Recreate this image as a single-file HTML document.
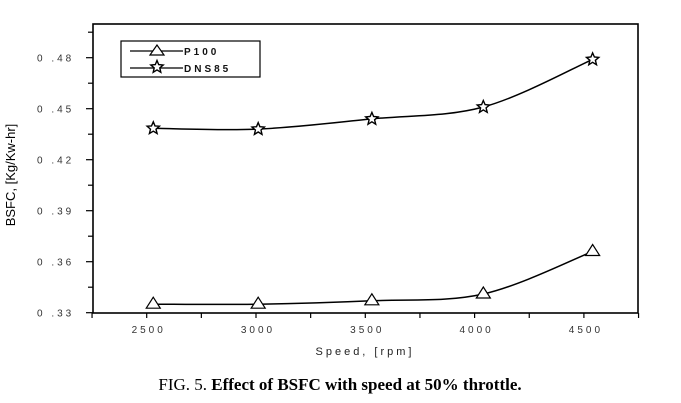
<!DOCTYPE html>
<html><head><meta charset="utf-8"><style>
body{margin:0;background:#fff;width:681px;height:403px;overflow:hidden}
svg{display:block}
.t{font-family:"Liberation Sans",sans-serif;font-size:10px;fill:#333;letter-spacing:3px}
</style></head><body>
<svg id="c" width="681" height="403">
<rect x="93" y="24" width="545" height="289" fill="none" stroke="#000" stroke-width="1.6"/>
<g id="ax"></g><g id="series"></g>
<text x="15" y="175" transform="rotate(-90 15 175)" style="font-family:'Liberation Sans',sans-serif;font-size:13px" text-anchor="middle">BSFC, [Kg/Kw-hr]</text>
<text x="365" y="355" class="t" style="font-size:11px;fill:#222" text-anchor="middle">Speed, [rpm]</text>
<g>
<rect x="121" y="41" width="139" height="36" fill="#fff" stroke="#000" stroke-width="1.2"/>
<line x1="130" y1="51" x2="183" y2="51" stroke="#000" stroke-width="1.2"/>
<polygon points="157,45 150,55 164,55" fill="#fff" stroke="#000" stroke-width="1.2"/>
<text x="184" y="55" class="t" style="fill:#111;font-weight:bold">P100</text>
<line x1="130" y1="68" x2="183" y2="68" stroke="#000" stroke-width="1.2"/>
<polygon id="lstar" fill="#fff" stroke="#000" stroke-width="1.4"/>
<text x="184" y="72" class="t" style="fill:#111;font-weight:bold">DNS85</text>
</g>
<text x="340" y="390" style="font-family:'Liberation Serif',serif;font-size:17px" text-anchor="middle">FIG. 5. <tspan font-weight="bold">Effect of BSFC with speed at 50% throttle.</tspan></text>
</svg>
<script>
const speeds=[2530,3010,3530,4040,4540];
const p100=[0.335,0.335,0.337,0.341,0.366];
const dns85=[0.4385,0.438,0.444,0.451,0.479];
const xTicks=[2500,3000,3500,4000,4500];
const yTicks=[0.33,0.36,0.39,0.42,0.45,0.48];
const NS="http://www.w3.org/2000/svg";
const X=v=>146.7+(v-2500)*109.3/500;
const Y=v=>312.7-(v-0.33)*51/0.03;
const ax=document.getElementById('ax'),sg=document.getElementById('series');
function mk(tag,at,par){const e=document.createElementNS(NS,tag);for(const k in at)e.setAttribute(k,at[k]);par.appendChild(e);return e;}
function starPts(cx,cy,r){let s=[];for(let k=0;k<10;k++){const a=-Math.PI/2+k*Math.PI/5,rr=k%2?r*0.45:r;s.push((cx+rr*Math.cos(a)).toFixed(1)+','+(cy+rr*Math.sin(a)).toFixed(1));}return s.join(' ');}
document.getElementById('lstar').setAttribute('points',starPts(157,67,6.5));
xTicks.forEach(t=>{
 const l=mk('line',{x1:X(t),x2:X(t),y1:313,y2:318,stroke:'#000','stroke-width':1.2},ax);
 
 
 mk('line',{x1:X(t+250),x2:X(t+250),y1:313,y2:318,stroke:'#000','stroke-width':1.2},ax);
 const tx=mk('text',{x:X(t)+2,y:333,'text-anchor':'middle',class:'t'},ax);tx.textContent=t;
 
 
});
mk('line',{x1:X(2250),x2:X(2250),y1:313,y2:318,stroke:'#000','stroke-width':1.2},ax);
yTicks.forEach(t=>{
 mk('line',{x1:86,x2:93,y1:Y(t),y2:Y(t),stroke:'#000','stroke-width':1.2},ax);
 mk('line',{x1:88,x2:93,y1:Y(t+0.015),y2:Y(t+0.015),stroke:'#000','stroke-width':1.2},ax);
 const tx=mk('text',{x:37,y:Y(t)+4,class:'t'},ax);tx.textContent=t.toFixed(2).replace(/^0/,'0 ');
 
 
});
function path(vals){
 const p=speeds.map((s,i)=>[X(s),Y(vals[i])]);
 let d='M'+p[0][0]+','+p[0][1];
 for(let i=0;i<p.length-1;i++){
  const p0=p[i-1]||p[i],p1=p[i],p2=p[i+1],p3=p[i+2]||p2;
  d+=` C${p1[0]+(p2[0]-p0[0])/6},${p1[1]+(p2[1]-p0[1])/6} ${p2[0]-(p3[0]-p1[0])/6},${p2[1]-(p3[1]-p1[1])/6} ${p2[0]},${p2[1]}`;
 }
 return d;
}
const l1=mk('path',{d:path(p100),fill:'none',stroke:'#000','stroke-width':1.5},sg);


const l2=mk('path',{d:path(dns85),fill:'none',stroke:'#000','stroke-width':1.5},sg);


speeds.forEach((s,i)=>{
 const x=X(s),y=Y(p100[i]);
 const m=mk('polygon',{points:`${x},${y-7} ${x-7},${y+4} ${x+7},${y+4}`,fill:'#fff',stroke:'#000','stroke-width':1.2},sg);
 
 
 const y2=Y(dns85[i]);
 const st=mk('polygon',{points:starPts(x,y2,6.5),fill:'#fff',stroke:'#000','stroke-width':1.4},sg);
 
 
});
</script>
</body></html>
